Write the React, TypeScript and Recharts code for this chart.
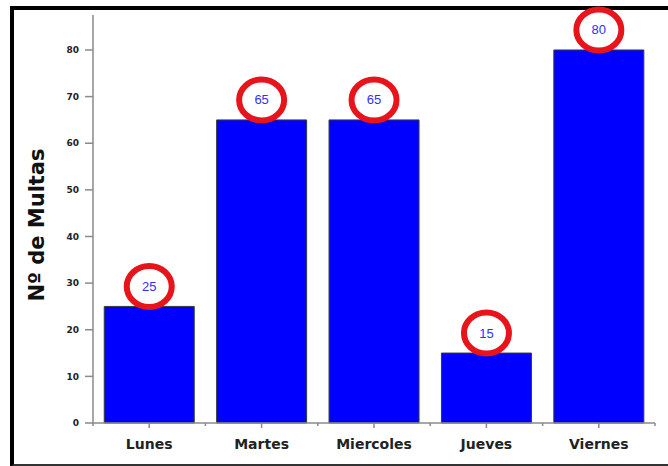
import React from 'react';
import { BarChart, Bar, XAxis, YAxis, LabelList } from 'recharts';

const days = ['Lunes', 'Martes', 'Miercoles', 'Jueves', 'Viernes'];
const multas = [25, 65, 65, 15, 80];
const yTicks = [0, 10, 20, 30, 40, 50, 60, 70, 80];

const data = days.map((d, i) => ({ day: d, value: multas[i] }));

const AXIS = '#8a8a8a';

const XTick = (props: any) => {
  const { x, y, payload, index } = props;
  const half = payload && payload.offset ? payload.offset : 56.2;
  const last = index === days.length - 1;
  return (
    <g>
      <line x1={x} y1={y - 8} x2={x} y2={y - 3} stroke={AXIS} strokeWidth={1.5} />
      <line x1={x - half} y1={y - 8} x2={x - half} y2={y - 5} stroke={AXIS} strokeWidth={1.5} />
      {last && <line x1={x + half} y1={y - 8} x2={x + half} y2={y - 5} stroke={AXIS} strokeWidth={1.5} />}
      <text
        x={x}
        y={y + 18}
        textAnchor="middle"
        fontFamily="DejaVu Sans, Verdana, sans-serif"
        fontWeight="bold"
        fontSize={14}
        fill="#222"
      >
        {payload.value}
      </text>
    </g>
  );
};

const CircleLabel = (props: any) => {
  const { x, y, width, value } = props;
  const cx = x + width / 2;
  const cy = y - 20;
  return (
    <g>
      <ellipse cx={cx} cy={cy} rx={22.5} ry={20.5} fill="#fff" stroke="#e8141c" strokeWidth={6} />
      <text
        x={cx}
        y={cy + 4.5}
        textAnchor="middle"
        fontFamily="Liberation Sans Narrow, Arial Narrow, Liberation Sans, sans-serif"
        fontSize={13}
        fill="#2f2fff"
      >
        {value}
      </text>
    </g>
  );
};

const YLabel = (props: any) => {
  const vb = props.viewBox || { x: 0, y: 15, width: 93, height: 408 };
  const lx = vb.x + 37;
  const ly = vb.y + vb.height / 2 + 6;
  return (
    <text
      x={lx}
      y={ly}
      transform={`rotate(-90 ${lx} ${ly})`}
      textAnchor="middle"
      dominantBaseline="central"
      fontFamily="DejaVu Sans, sans-serif"
      fontWeight="bold"
      fontSize={21}
      fill="#111"
    >
      Nº de Multas
    </text>
  );
};

export default function App() {
  return (
    <div style={{ position: 'absolute', left: 0, top: 0, width: 668, height: 466, overflow: 'hidden', background: '#fff' }}>
      <div
        style={{
          position: 'absolute',
          left: 10,
          top: 6,
          width: 700,
          height: 454,
          borderLeft: '4px solid #000',
          borderTop: '4px solid #000',
          borderBottom: '3px solid #333',
        }}
      />
      <div style={{ position: 'absolute', left: 0, top: 0 }}>
        <BarChart
          width={668}
          height={466}
          data={data}
          margin={{ top: 15, right: 13, left: 0, bottom: 0 }}
          barCategoryGap="10%"
        >
          <XAxis
            dataKey="day"
            height={43}
            axisLine={{ stroke: AXIS, strokeWidth: 1.5 }}
            tickLine={false}
            tick={<XTick />}
            interval={0}
            tickSize={8}
            tickMargin={0}
          />
          <YAxis
            width={93}
            domain={[0, 87.5]}
            ticks={yTicks}
            interval={0}
            axisLine={{ stroke: AXIS, strokeWidth: 1.5 }}
            tickLine={{ stroke: AXIS, strokeWidth: 1.5 }}
            tickSize={8}
            tickMargin={6}
            tick={{ fontFamily: 'DejaVu Sans, sans-serif', fontWeight: 'bold', fontSize: 9, fill: '#222' }}
            label={<YLabel />}
          />
          <Bar dataKey="value" fill="#0000ff" stroke="#3a3a3a" strokeWidth={1} isAnimationActive={false}>
            <LabelList dataKey="value" content={<CircleLabel />} />
          </Bar>
        </BarChart>
      </div>
    </div>
  );
}
